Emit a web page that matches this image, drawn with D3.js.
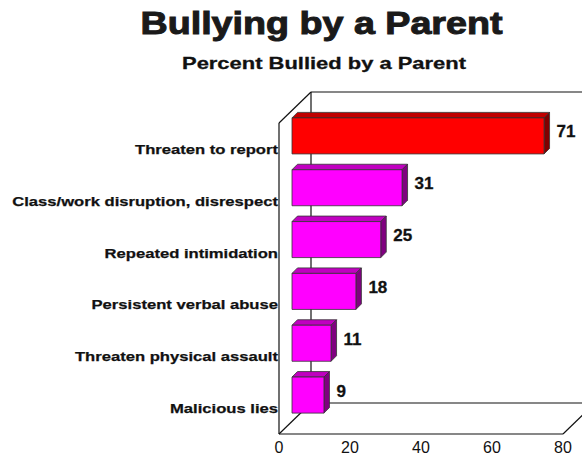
<!DOCTYPE html>
<html>
<head>
<meta charset="utf-8">
<script src="https://cdn.jsdelivr.net/npm/d3@7"></script>
<style>
    body { margin: 0; background: #fff; }
    svg { display: block; font-family: "Liberation Sans", Arial, sans-serif; }
</style>
</head>
<body>
<svg id="chart" width="582" height="456"></svg>
<script>
const categories = ["Threaten to report", "Class/work disruption, disrespect", "Repeated intimidation",
                    "Persistent verbal abuse", "Threaten physical assault", "Malicious lies"];
const percents = [71, 31, 25, 18, 11, 9];
const xTicks = [0, 20, 40, 60, 80];

function buildChart() {
    const svg = d3.select("#chart");
    const left = 279, right = 563, top = 123, bottom = 434;
    const depthX = 32, depthY = -31;      // full depth of the 3d box
    const barShift = 13, barDepth = 5.5;  // bars sit a bit inside the box

    const xs = d3.scaleLinear().domain([0, 80]).range([left, right]);
    const ys = d3.scaleBand().domain(categories).range([top, bottom]).paddingInner(0.305).paddingOuter(0.1525);

    // titles
    svg.append("text").attr("x", 321.5).attr("y", 34).attr("text-anchor", "middle")
       .attr("font-size", 31).attr("font-weight", "bold").attr("fill", "#1a1a1a")
       .attr("stroke", "#1a1a1a").attr("stroke-width", 1)
       .attr("textLength", 362).attr("lengthAdjust", "spacingAndGlyphs")
       .text("Bullying by a Parent");
    svg.append("text").attr("x", 324).attr("y", 69).attr("text-anchor", "middle")
       .attr("font-size", 17).attr("font-weight", "bold").attr("fill", "#111")
       .attr("stroke", "#111").attr("stroke-width", 0.3)
       .attr("textLength", 284).attr("lengthAdjust", "spacingAndGlyphs")
       .text("Percent Bullied by a Parent");

    // box walls
    const wall = svg.append("g").attr("stroke", "#111").attr("stroke-width", 1.2).attr("fill", "none");
    const bx = left + depthX, by = top + depthY, fy = bottom + depthY;
    const wallLines = [
        [[left, bottom], [left, top]],
        [[left, top], [bx, by]],
        [[bx, by], [600, by]],
        [[bx, by], [bx, fy]],
        [[left, bottom], [bx, fy]],
        [[bx, fy], [600, fy]],
        [[left, bottom], [right, bottom]],
        [[right, bottom], [right + depthX, fy]]
    ];
    wall.selectAll("path").data(wallLines).enter().append("path").attr("d", d => d3.line()(d));

    // bars
    const barGrp = svg.append("g").attr("stroke", "#333").attr("stroke-width", 0.8).attr("stroke-linejoin", "round");
    categories.forEach((c, i) => {
        const isTop = i == 0;
        const cols = isTop ? ["#ff0000", "#c00000", "#800000"] : ["#ff00ff", "#c000c0", "#800080"];
        const x0 = xs(0) + barShift, x1 = xs(percents[i]) + barShift;
        const y0 = ys(c) - barShift, y1 = y0 + ys.bandwidth();
        const g = barGrp.append("g");
        g.append("path").attr("fill", cols[1])
         .attr("d", d3.line()([[x0, y0], [x0 + barDepth, y0 - barDepth], [x1 + barDepth, y0 - barDepth], [x1, y0]]) + "Z");
        g.append("path").attr("fill", cols[2])
         .attr("d", d3.line()([[x1, y0], [x1 + barDepth, y0 - barDepth], [x1 + barDepth, y1 - barDepth], [x1, y1]]) + "Z");
        g.append("rect").attr("x", x0).attr("y", y0).attr("width", x1 - x0).attr("height", y1 - y0).attr("fill", cols[0]);

        svg.append("text").attr("x", x1 + barDepth + 7).attr("y", (y0 + y1) / 2 + 1.5)
           .attr("font-size", 17).attr("font-weight", "bold").attr("fill", "#111")
           .attr("stroke", "#111").attr("stroke-width", 0.3)
           .text(percents[i]);
    });

    // category labels, stretched a bit wider like the original face
    svg.append("g").selectAll("text").data(categories).enter().append("text")
       .attr("x", left - 1)
       .attr("y", d => ys(d) + ys.bandwidth() / 2 + 5)
       .attr("text-anchor", "end").attr("font-size", 13.5).attr("font-weight", "bold").attr("fill", "#111")
       .attr("stroke", "#111").attr("stroke-width", 0.25)
       .text(d => d)
       .each(function() {
           const w = this.getComputedTextLength();
           d3.select(this).attr("textLength", w * 1.23).attr("lengthAdjust", "spacingAndGlyphs");
       });

    // x tick labels
    svg.append("g").selectAll("text").data(xTicks).enter().append("text")
       .attr("x", d => xs(d)).attr("y", 453).attr("text-anchor", "middle")
       .attr("font-size", 16).attr("fill", "#111")
       .text(d => d);
}

buildChart();
</script>
</body>
</html>
